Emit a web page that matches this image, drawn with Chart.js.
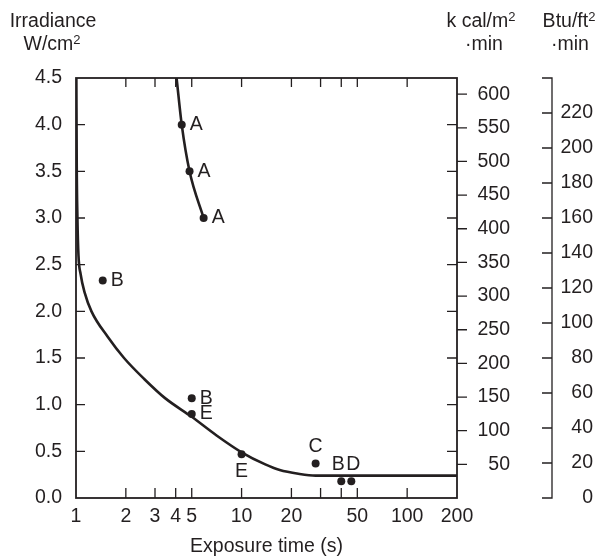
<!DOCTYPE html>
<html>
<head>
<meta charset="utf-8">
<script src="https://cdn.jsdelivr.net/npm/chart.js@4.4.1/dist/chart.umd.min.js"></script>
<style>
  html, body { margin: 0; padding: 0; background: #fff; }
</style>
</head>
<body>
<canvas id="canvas" width="598" height="556"></canvas>
<script>
// axis ticks
const exposureTicks = [1, 2, 3, 4, 5, 10, 20, 30, 40, 50, 100, 200];
const exposureLabels = [1, 2, 3, 4, 5, 10, 20, 50, 100, 200];
const irradianceTicks = [0, 0.5, 1, 1.5, 2, 2.5, 3, 3.5, 4, 4.5];
const kcalTicks = [50, 100, 150, 200, 250, 300, 350, 400, 450, 500, 550, 600];
const btuTicks = [0, 20, 40, 60, 80, 100, 120, 140, 160, 180, 200, 220];

// curve A (upper)
const curveATime = [4.05, 4.35, 4.85, 5.9];
const curveAIrr = [4.5, 4.0, 3.5, 3.0];

// lower curve
const curveLowTime = [1.005, 1.01, 1.02, 1.035, 1.066, 1.128, 1.24, 1.55, 1.95, 2.6, 3.45, 5.0, 7.0, 10, 13.9, 17, 22, 28, 200];
const curveLowIrr = [4.5, 3.6, 3.0, 2.6, 2.4, 2.2, 2.0, 1.73, 1.5, 1.27, 1.07, 0.87, 0.675, 0.49, 0.36, 0.30, 0.26, 0.24, 0.24];

// measured points
const pointTime = [4.35, 4.85, 5.9, 1.45, 5.0, 40, 5.0, 10, 28, 46];
const pointIrr = [4.0, 3.5, 3.0, 2.33, 1.07, 0.18, 0.9, 0.47, 0.37, 0.18];
const pointName = ['A', 'A', 'A', 'B', 'B', 'B', 'E', 'E', 'C', 'D'];
const labelSide = ['right', 'right', 'right', 'right', 'right', 'aboveL', 'right', 'below', 'above', 'aboveR'];

const ink = '#231f20';
const fontFamily = '"Liberation Sans", Arial, sans-serif';
const labelFont = { family: fontFamily, size: 19.5 };

function toXY(xs, ys) {
  return xs.map((x, i) => ({ x: x, y: ys[i] }));
}

// text with a small raised "2", centred on cx
function drawSup(ctx, text, sup, cx, y) {
  ctx.font = '19.5px ' + fontFamily;
  const w1 = ctx.measureText(text).width;
  ctx.font = '13px ' + fontFamily;
  const w2 = ctx.measureText(sup).width;
  const x = cx - (w1 + w2) / 2;
  ctx.textAlign = 'left';
  ctx.font = '19.5px ' + fontFamily;
  ctx.fillText(text, x, y);
  ctx.font = '13px ' + fontFamily;
  ctx.fillText(sup, x + w1, y - 6);
  ctx.font = '19.5px ' + fontFamily;
}

const framePlugin = {
  id: 'frame',
  afterDraw(chart) {
    const ctx = chart.ctx;
    const a = chart.chartArea;
    const sx = chart.scales.x, sy = chart.scales.y;
    const sk = chart.scales.kcal, sb = chart.scales.btu;
    ctx.save();
    ctx.strokeStyle = ink;
    ctx.lineWidth = 1.8;
    ctx.strokeRect(a.left, a.top, a.right - a.left, a.bottom - a.top);

    ctx.lineWidth = 1.3;
    ctx.beginPath();
    exposureTicks.slice(1, -1).forEach(v => {
      const px = sx.getPixelForValue(v);
      ctx.moveTo(px, a.bottom); ctx.lineTo(px, a.bottom - 10);
      ctx.moveTo(px, a.top); ctx.lineTo(px, a.top + 9);
    });
    irradianceTicks.slice(1, -1).forEach(v => {
      const py = sy.getPixelForValue(v);
      ctx.moveTo(a.left, py); ctx.lineTo(a.left + 9, py);
      ctx.moveTo(a.right, py); ctx.lineTo(a.right - 10, py);
    });
    kcalTicks.forEach(v => {
      const py = sk.getPixelForValue(v);
      ctx.moveTo(a.right, py); ctx.lineTo(a.right + 10, py);
    });
    // Btu bracket axis
    const bx = sb.left + 42;
    const bTop = sb.getPixelForValue(sb.max), bBot = sb.getPixelForValue(0);
    ctx.moveTo(bx - 10, bTop); ctx.lineTo(bx, bTop); ctx.lineTo(bx, bBot); ctx.lineTo(bx - 10, bBot);
    btuTicks.slice(1).forEach(v => {
      const py = sb.getPixelForValue(v);
      ctx.moveTo(bx, py); ctx.lineTo(bx - 10, py);
    });
    ctx.stroke();

    // header titles
    ctx.fillStyle = ink;
    ctx.font = '19.5px ' + fontFamily;
    ctx.textAlign = 'center';
    ctx.textBaseline = 'alphabetic';
    ctx.fillText('Irradiance', 53, 27);
    drawSup(ctx, 'W/cm', '2', 52, 50);
    drawSup(ctx, 'k cal/m', '2', 481, 27);
    ctx.textAlign = 'center';
    ctx.fillText('·min', 484, 50);
    drawSup(ctx, 'Btu/ft', '2', 569, 27);
    ctx.textAlign = 'center';
    ctx.fillText('·min', 570, 50);

    // point labels
    ctx.font = '19.5px ' + fontFamily;
    ctx.textBaseline = 'middle';
    pointName.forEach((name, i) => {
      const px = sx.getPixelForValue(pointTime[i]);
      const py = sy.getPixelForValue(pointIrr[i]);
      const side = labelSide[i];
      if (side === 'right') {
        ctx.textAlign = 'left';
        ctx.fillText(name, px + 8, py);
      } else if (side === 'below') {
        ctx.textAlign = 'center';
        ctx.fillText(name, px, py + 17);
      } else {
        const shift = side === 'aboveL' ? -3 : side === 'aboveR' ? 2 : 0;
        ctx.textAlign = 'center';
        ctx.fillText(name, px + shift, py - 17);
      }
    });
    ctx.restore();
  }
};

const canvas = document.getElementById('canvas');
const myChart = new Chart(canvas, {
  type: 'scatter',
  data: {
    datasets: [{
      label: 'Curve A',
      data: toXY(curveATime, curveAIrr),
      showLine: true,
      borderColor: ink,
      borderWidth: 2.6,
      pointRadius: 0,
      cubicInterpolationMode: 'monotone'
    }, {
      label: 'Lower curve',
      data: toXY(curveLowTime, curveLowIrr),
      showLine: true,
      borderColor: ink,
      borderWidth: 2.6,
      pointRadius: 0,
      cubicInterpolationMode: 'monotone'
    }, {
      label: 'Points',
      data: toXY(pointTime, pointIrr),
      showLine: false,
      backgroundColor: ink,
      borderColor: ink,
      pointRadius: 4,
      pointBorderWidth: 0
    }]
  },
  options: {
    responsive: false,
    animation: false,
    events: [],
    layout: { padding: { top: 78, right: 5, left: 0, bottom: 0 } },
    plugins: {
      legend: { display: false },
      tooltip: { enabled: false }
    },
    scales: {
      x: {
        type: 'logarithmic',
        position: 'bottom',
        min: 1,
        max: 200,
        afterBuildTicks: s => { s.ticks = exposureTicks.map(v => ({ value: v })); },
        afterFit: s => { s.height = 58; },
        grid: { display: false, drawTicks: false, tickLength: 0 },
        border: { display: false },
        ticks: {
          autoSkip: false,
          maxRotation: 0,
          padding: 7,
          color: ink,
          font: labelFont,
          callback: v => exposureLabels.includes(v) ? String(v) : ''
        },
        title: {
          display: true,
          text: 'Exposure time (s)',
          color: ink,
          font: Object.assign({ lineHeight: 1 }, labelFont),
          padding: { top: 0, bottom: 0 }
        }
      },
      y: {
        type: 'linear',
        position: 'left',
        min: 0,
        max: 4.5,
        afterBuildTicks: s => { s.ticks = irradianceTicks.map(v => ({ value: v })); },
        afterFit: s => { s.width = 76; },
        grid: { display: false, drawTicks: false, tickLength: 0 },
        border: { display: false },
        ticks: { padding: 14, color: ink, font: labelFont, callback: v => v.toFixed(1) }
      },
      kcal: {
        type: 'linear',
        position: 'right',
        min: 0,
        max: 624,
        afterBuildTicks: s => { s.ticks = kcalTicks.map(v => ({ value: v })); },
        afterFit: s => { s.width = 53; },
        grid: { display: false, drawTicks: false, tickLength: 0 },
        border: { display: false },
        ticks: { crossAlign: 'far', color: ink, font: labelFont }
      },
      btu: {
        type: 'linear',
        position: 'right',
        min: 0,
        max: 240,
        afterBuildTicks: s => { s.ticks = btuTicks.map(v => ({ value: v })); },
        afterFit: s => { s.width = 83; },
        grid: { display: false, drawTicks: false, tickLength: 0 },
        border: { display: false },
        ticks: { crossAlign: 'far', color: ink, font: labelFont }
      }
    }
  },
  plugins: [framePlugin]
});
</script>
</body>
</html>
